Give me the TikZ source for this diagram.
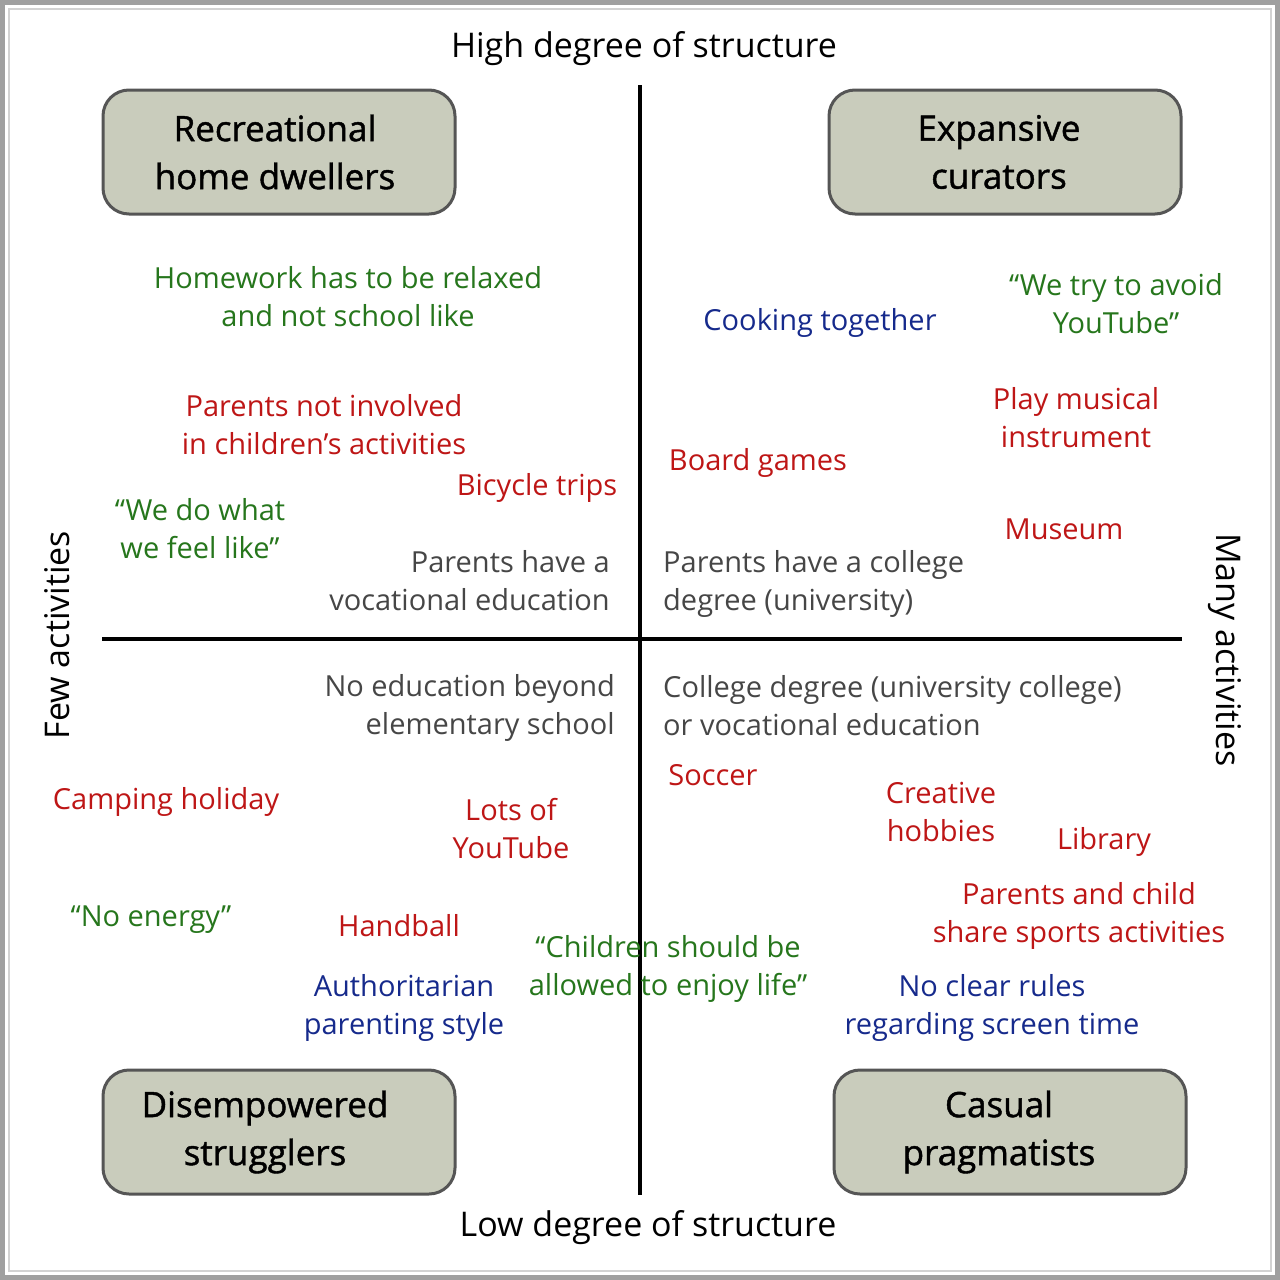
\documentclass[tikz,border=0pt]{standalone}
\usepackage{fontspec}
\setmainfont{Open Sans}
\newfontfamily\boxfont{Open Sans}[FakeBold=1.2]
\definecolor{quotegreen}{RGB}{38,118,28}
\definecolor{actred}{RGB}{190,22,22}
\definecolor{ruleblue}{RGB}{22,42,140}
\definecolor{edugray}{RGB}{70,70,70}
\definecolor{boxfill}{RGB}{201,204,188}
\definecolor{boxline}{RGB}{85,85,85}
\begin{document}
\begin{tikzpicture}[x=1pt,y=-1pt]
\tikzset{group/.style = {draw=boxline, line width=3pt, fill=boxfill, rounded corners=26pt, minimum width=352pt, minimum height=124pt, align=center, font=\boxfont\fontsize{35}{48}\selectfont},
  axis/.style = {font=\fontsize{34}{40}\selectfont},
  item/.style = {align=center, font=\fontsize{29}{38}\selectfont, inner sep=0pt},
  quote/.style = {item, text=quotegreen},
  activity/.style = {item, text=actred},
  rules/.style = {item, text=ruleblue},
  edu/.style = {item, text=edugray}}
\useasboundingbox (0,0) rectangle (1280,1280);
\fill[white] (0,0) rectangle (1280,1280);
\draw[gray!75, line width=5pt] (2.5,2.5) rectangle (1277.5,1277.5);
\draw[gray!35, line width=1.5pt] (9,9) rectangle (1271,1271);
% axes
\coordinate (top) at (640,85);
\coordinate (bottom) at (640,1195);
\coordinate (left) at (102,639);
\coordinate (right) at (1182,639);
\draw[line width=3.5pt] (top) -- (bottom);
\draw[line width=3.5pt] (left) -- (right);
\node[axis] (high) at (644,49) {High degree of structure};
\node[axis] (low) at (648,1228) {Low degree of structure};
\node[axis, rotate=90] (few) at (57,635) {Few activities};
\node[axis, rotate=-90] (many) at (1225,650) {Many activities};
% groups
\node[group] (recreational) at (279,152) {Recreational\hspace*{8pt}\\home dwellers\hspace*{8pt}};
\node[group] (expansive) at (1005,152) {Expansive\hspace*{12pt}\\curators\hspace*{12pt}};
\node[group] (disempowered) at (279,1132) {Disempowered\hspace*{28pt}\\strugglers\hspace*{28pt}};
\node[group] (casual) at (1010,1132) {Casual\hspace*{22pt}\\pragmatists\hspace*{22pt}};
% top left
\node[quote] (homework) at (348,297) {Homework has to be relaxed\\and not school like};
\node[activity] (notinvolved) at (324,425) {Parents not involved\\in children’s activities};
\node[activity] (bicycle) at (537,488) {Bicycle trips};
\node[quote] (feellike) at (200,529) {“We do what\\we feel like”};
\node[edu, align=right, anchor=east] (vocational) at (610,581) {Parents have a\\vocational education};
% top right
\node[rules] (cooking) at (820,323) {Cooking together};
\node[quote] (avoid) at (1116,304) {“We try to avoid\\YouTube”};
\node[activity] (musical) at (1076,418) {Play musical\\instrument};
\node[activity] (board) at (758,463) {Board games};
\node[activity] (museum) at (1064,529) {Museum};
\node[edu, align=left, anchor=west] (university) at (663,584) {Parents have a college\\degree (university)};
% bottom left
\node[edu, align=right, anchor=east] (elementary) at (615,708) {No education beyond\\elementary school};
\node[activity] (camping) at (166,802) {Camping holiday};
\node[activity] (youtube) at (511,829) {Lots of\\YouTube};
\node[quote] (energy) at (151,920) {“No energy”};
\node[activity] (handball) at (399,926) {Handball};
\node[rules] (authoritarian) at (404,1008) {Authoritarian\\parenting style};
\node[quote] (enjoy) at (668,969) {“Children should be\\allowed to enjoy life”};
% bottom right
\node[edu, align=left, anchor=west] (college) at (663,706) {College degree (university college)\\or vocational education};
\node[activity] (soccer) at (713,775) {Soccer};
\node[activity] (creative) at (941,812) {Creative\\hobbies};
\node[activity] (library) at (1104,842) {Library};
\node[activity] (share) at (1079,916) {Parents and child\\share sports activities};
\node[rules] (screen) at (992,1008) {No clear rules\\regarding screen time};
\end{tikzpicture}
\end{document}
